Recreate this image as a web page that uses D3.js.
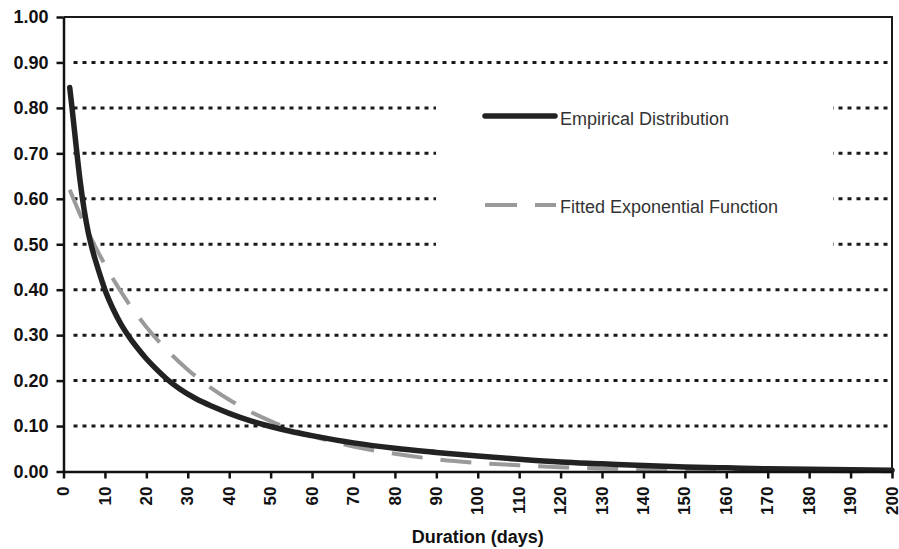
<!DOCTYPE html>
<html lang="en">
<head>
<meta charset="utf-8">
<title>Empirical vs fitted exponential distribution</title>
<script src="https://d3js.org/d3.v7.min.js"></script>
<style>
  body { margin: 0; background: #fff; }
  text { font-family: "Liberation Sans", Arial, sans-serif; }
</style>
</head>
<body>
<script>
// data
const empDays = [1.5, 2, 3, 4, 5, 6, 7, 8, 9, 10, 12, 14, 16, 18, 20, 22, 25, 28, 32, 36, 40, 45, 50, 55, 60, 70, 80, 90, 100, 110, 120, 130, 140, 150, 160, 170, 180, 190, 200];
const empValues = [0.845, 0.805, 0.72, 0.64, 0.575, 0.525, 0.487, 0.456, 0.427, 0.40, 0.357, 0.322, 0.294, 0.27, 0.248, 0.229, 0.203, 0.182, 0.16, 0.143, 0.128, 0.112, 0.099, 0.088, 0.079, 0.063, 0.051, 0.042, 0.034, 0.027, 0.021, 0.017, 0.013, 0.01, 0.008, 0.006, 0.005, 0.004, 0.003];

const fitDays = [1.5, 5, 10, 15, 20, 25, 30, 35, 40, 45, 50, 55, 60, 70, 80, 90, 100, 110, 120, 130, 140, 150, 160, 170, 180, 190, 200];
const fitValues = [0.62, 0.545, 0.455, 0.38, 0.318, 0.267, 0.224, 0.188, 0.158, 0.132, 0.111, 0.093, 0.078, 0.055, 0.039, 0.027, 0.019, 0.0135, 0.0095, 0.0067, 0.0047, 0.0033, 0.0023, 0.0016, 0.0012, 0.0008, 0.0006];

const yTicks = [0, 0.1, 0.2, 0.3, 0.4, 0.5, 0.6, 0.7, 0.8, 0.9, 1.0];
const xTicks = [0, 10, 20, 30, 40, 50, 60, 70, 80, 90, 100, 110, 120, 130, 140, 150, 160, 170, 180, 190, 200];
const seriesNames = ["Empirical Distribution", "Fitted Exponential Function"];

const width = 899, height = 549;
const plotLeft = 63.5, plotRight = 892, plotTop = 17, plotBottom = 471.5;

const x = d3.scaleLinear().domain([0, 200]).range([plotLeft, plotRight]);
const y = d3.scaleLinear().domain([0, 1]).range([plotBottom, plotTop]);

const svg = d3.select("body").append("svg")
    .attr("width", width)
    .attr("height", height);

// dotted gridlines
svg.append("g")
    .selectAll("line")
    .data(yTicks.filter(d => d > 0 && d < 1))
    .enter().append("line")
    .attr("x1", plotLeft + 10)
    .attr("x2", plotRight)
    .attr("y1", d => y(d))
    .attr("y2", d => y(d))
    .attr("stroke", "#1a1a1a")
    .attr("stroke-width", 3)
    .attr("stroke-dasharray", "4,5");

// frame (top + right)
svg.append("path")
    .attr("d", `M${plotLeft},${plotTop}H${plotRight}V${plotBottom}`)
    .attr("fill", "none")
    .attr("stroke", "#1a1a1a")
    .attr("stroke-width", 2);

// legend box (white, hides gridlines)
const legend = svg.append("g");
legend.append("rect")
    .attr("x", 436).attr("y", 88)
    .attr("width", 397).attr("height", 170)
    .attr("fill", "#fff");

// curves
const line = d3.line()
    .x(d => x(d[0]))
    .y(d => y(d[1]))
    .curve(d3.curveMonotoneX);

svg.append("path")
    .datum(fitDays.map((d, i) => [d, fitValues[i]]))
    .attr("d", line)
    .attr("fill", "none")
    .attr("stroke", "#9a9a9a")
    .attr("stroke-width", 4)
    .attr("stroke-dasharray", "31,18");

svg.append("path")
    .datum(empDays.map((d, i) => [d, empValues[i]]))
    .attr("d", line)
    .attr("fill", "none")
    .attr("stroke", "#222")
    .attr("stroke-width", 5.5)
    .attr("stroke-linecap", "round");

// legend entries
legend.append("line")
    .attr("x1", 485).attr("x2", 555)
    .attr("y1", 116).attr("y2", 116)
    .attr("stroke", "#222").attr("stroke-width", 5.5)
    .attr("stroke-linecap", "round");
legend.append("text")
    .attr("x", 560).attr("y", 125)
    .attr("font-size", 18).attr("fill", "#333")
    .text(seriesNames[0]);

legend.append("line")
    .attr("x1", 485).attr("x2", 556)
    .attr("y1", 205).attr("y2", 205)
    .attr("stroke", "#9a9a9a").attr("stroke-width", 4)
    .attr("stroke-dasharray", "32,18");
legend.append("text")
    .attr("x", 560).attr("y", 213)
    .attr("font-size", 18).attr("fill", "#333")
    .text(seriesNames[1]);

// axes
const yAxis = d3.axisLeft(y)
    .tickValues(yTicks)
    .tickFormat(d3.format(".2f"))
    .tickSize(7)
    .tickPadding(8)
    .tickSizeOuter(0);

const gy = svg.append("g")
    .attr("transform", `translate(${plotLeft},0)`)
    .call(yAxis);

const xAxis = d3.axisBottom(x)
    .tickValues(xTicks)
    .tickFormat(d3.format("d"))
    .tickSize(7)
    .tickSizeOuter(0);

const gx = svg.append("g")
    .attr("transform", `translate(0,${plotBottom})`)
    .call(xAxis);

[gy, gx].forEach(g => {
    g.select(".domain").attr("stroke", "#111").attr("stroke-width", 2.5);
    g.selectAll(".tick line").attr("stroke", "#111").attr("stroke-width", 2.5);
    g.selectAll("text")
        .attr("fill", "#111")
        .attr("font-size", 18)
        .attr("font-weight", "bold")
        .attr("font-family", "Liberation Sans, Arial, sans-serif");
});

gx.selectAll(".tick text")
    .attr("y", 0)
    .attr("x", -15)
    .attr("dy", "0.3em")
    .attr("transform", "rotate(-90)")
    .attr("text-anchor", "end")
    .attr("font-size", 17);

svg.append("text")
    .attr("x", (plotLeft + plotRight) / 2)
    .attr("y", 543)
    .attr("text-anchor", "middle")
    .attr("font-size", 18)
    .attr("font-weight", "bold")
    .attr("fill", "#111")
    .text("Duration (days)");
</script>
</body>
</html>
